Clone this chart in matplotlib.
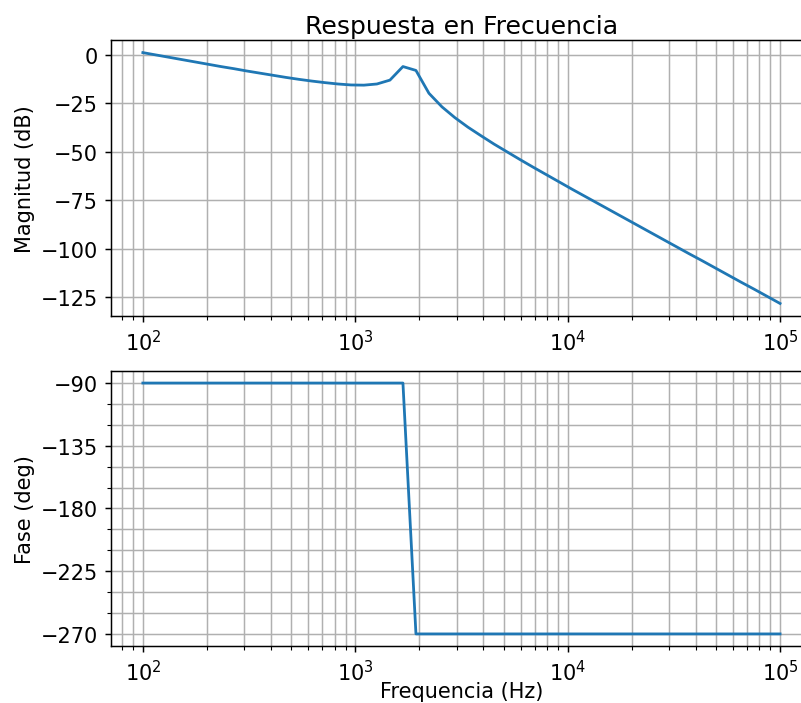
import matplotlib
matplotlib.use("Agg")
import matplotlib.pyplot as plt
from matplotlib.ticker import MultipleLocator

# Sampled frequencies (Hz)
freq_hz = [
    100.0, 115.1, 132.6, 152.6, 175.8, 202.4, 233.0, 268.3, 308.9, 355.6,
    409.5, 471.5, 542.9, 625.1, 719.7, 828.6, 954.1, 1098.5, 1264.9, 1456.3,
    1676.8, 1930.7, 2222.9, 2559.5, 2947.1, 3393.2, 3907.0, 4498.4, 5179.5, 5963.6,
    6866.5, 7906.0, 9102.9, 10481.1, 12067.9, 13894.9, 15998.6, 18420.7, 21209.5, 24420.5,
    28117.7, 32374.6, 37275.9, 42919.3, 49417.1, 56898.7, 65512.9, 75431.2, 86851.1, 100000.0,
]

# Magnitude response (dB)
magnitude_db = [
    1.2, 0.0, -1.2, -2.4, -3.6, -4.8, -6.0, -7.1, -8.3, -9.4,
    -10.5, -11.6, -12.6, -13.5, -14.3, -15.0, -15.5, -15.6, -15.0, -13.0,
    -6.0, -8.0, -19.8, -26.8, -32.4, -37.3, -41.7, -46.0, -50.0, -54.0,
    -57.9, -61.7, -65.5, -69.3, -73.0, -76.7, -80.4, -84.1, -87.8, -91.5,
    -95.2, -98.9, -102.6, -106.2, -109.9, -113.6, -117.3, -120.9, -124.6, -128.3,
]

# Phase response (degrees)
phase_deg = [-90.0] * 21 + [-270.0] * 29

phase_ticks = [-90, -135, -180, -225, -270]

plt.rcParams["font.size"] = 11.3

fig = plt.figure(figsize=(6.015, 5.28), dpi=133.33)

# The plotting area runs slightly past the right edge of the canvas
ax_mag = fig.add_axes([0.1384, 0.5497, 0.874, 0.392])
ax_ph = fig.add_axes([0.1384, 0.0803, 0.874, 0.392])

ax_mag.semilogx(freq_hz, magnitude_db, color="#1f77b4", linewidth=1.5)
ax_mag.set_ylabel("Magnitud (dB)", labelpad=3)
ax_mag.set_title("Respuesta en Frecuencia", pad=4)
ax_mag.grid(True, which="both", color="#b0b0b0", linewidth=0.8)

ax_ph.semilogx(freq_hz, phase_deg, color="#1f77b4", linewidth=1.5)
ax_ph.set_yticks(phase_ticks)
ax_ph.yaxis.set_minor_locator(MultipleLocator(15))
ax_ph.set_ylabel("Fase (deg)", labelpad=3)
ax_ph.set_xlabel("Frequencia (Hz)", labelpad=-2)
ax_ph.grid(True, which="both", color="#b0b0b0", linewidth=0.8)

fig.savefig("out.png", dpi=133.33)
